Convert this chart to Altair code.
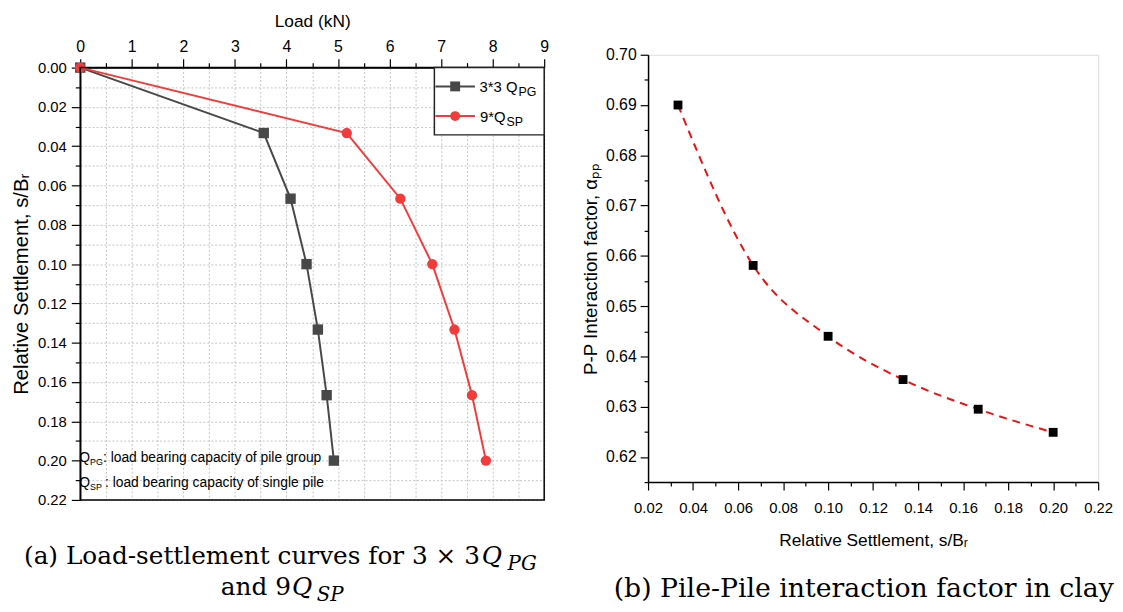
import altair as alt
import pandas as pd

# ---------------- data ----------------
settlement = [0.0, 0.0333, 0.0667, 0.1, 0.1333, 0.1667, 0.2]
load_group = [0.0, 3.56, 4.08, 4.39, 4.61, 4.78, 4.92]
load_single = [0.0, 5.17, 6.21, 6.83, 7.26, 7.60, 7.87]

rel_settlement = [0.0333, 0.0667, 0.1, 0.1333, 0.1667, 0.2]
alpha_pp = [0.690, 0.6581, 0.6440, 0.6354, 0.6295, 0.6249]

load_ticks = [i * 0.5 for i in range(19)]
settle_ticks = [round(i * 0.01, 2) for i in range(23)]
rs_ticks = [round(0.02 + i * 0.01, 2) for i in range(21)]
alpha_ticks = [round(0.615 + i * 0.005, 3) for i in range(18)]

GREY = "#484848"
RED = "#f23c3c"
DRED = "#ee1111"
SANS = "Liberation Sans"
SERIF = "DejaVu Serif"

grp = pd.DataFrame({"settlement": settlement, "load": load_group})
sgl = pd.DataFrame({"settlement": settlement, "load": load_single})
pp = pd.DataFrame({"rs": rel_settlement, "alpha": alpha_pp})

ONE = alt.Data(values=[{"k": 1}])


def txt(t, x, y, size, font=SANS, align="left", style="normal", baseline="middle"):
    return alt.Chart(ONE).mark_text(
        text=t, fontSize=size, font=font, align=align, baseline=baseline,
        fontStyle=style, color="black"
    ).encode(x=alt.value(x), y=alt.value(y))


# ---------------- left panel ----------------
# the left panel's frame sits 13 px lower than the right panel's
W1, H1 = 469, 450
TOP = 13

ax_top = alt.Axis(
    orient="top", values=load_ticks, title="Load (kN)", labelFlush=False, offset=-TOP,
    labelExpr="datum.value % 1 === 0 ? format(datum.value, 'd') : ''",
    labelFontSize=16, labelFont=SANS, labelColor="black", labelPadding=4,
    titleFontSize=17.5, titleFont=SANS, titleFontWeight="normal", titleColor="black", titlePadding=9,
    tickSize={"condition": {"test": "datum.value % 1 !== 0", "value": 5}, "value": 9},
    tickColor="black", tickWidth=1.2, domainColor="black", domainWidth=1.5,
    grid=True, gridDash=[2, 2], gridColor="#c4c4c4", gridWidth=1,
)
ax_left = alt.Axis(
    orient="left", values=settle_ticks, title="Relative Settlement, s/Bᵣ", labelFlush=False,
    labelExpr="round(datum.value * 100) % 2 === 0 ? format(datum.value, '.2f') : ''",
    labelFontSize=15, labelFont=SANS, labelColor="black", labelPadding=5,
    titleFontSize=20.5, titleFont=SANS, titleFontWeight="normal", titleColor="black", titlePadding=6,
    tickSize={"condition": {"test": "round(datum.value * 100) % 2 === 1", "value": 5}, "value": 9},
    tickColor="black", tickWidth=1.2, domainColor="black", domainWidth=1.5,
    grid=True, gridDash=[2, 2], gridColor="#c4c4c4", gridWidth=1,
)
xl = alt.X("load:Q", scale=alt.Scale(domain=[0, 9], nice=False, zero=False), axis=ax_top)
yl = alt.Y("settlement:Q", scale=alt.Scale(domain=[0, 0.22], range=[TOP, H1], nice=False, zero=False), axis=ax_left)

frame = alt.Chart(ONE).mark_rect(fill="transparent", stroke="black", strokeWidth=1.5).encode(
    x=alt.value(0), x2=alt.value(W1), y=alt.value(TOP), y2=alt.value(H1))
g_line = alt.Chart(grp).mark_line(color=GREY, strokeWidth=2).encode(x=xl, y=yl, order="settlement:Q")
g_pts = alt.Chart(grp).mark_point(shape="square", filled=True, size=110, color=GREY, opacity=1).encode(x=xl, y=yl)
s_line = alt.Chart(sgl).mark_line(color=RED, strokeWidth=2).encode(x=xl, y=yl, order="settlement:Q")
s_pts = alt.Chart(sgl).mark_point(shape="circle", filled=True, size=110, color=RED, opacity=1).encode(x=xl, y=yl)

leg_box = alt.Chart(ONE).mark_rect(fill="white", stroke="#222222", strokeWidth=1.5).encode(
    x=alt.value(358), x2=alt.value(W1), y=alt.value(TOP), y2=alt.value(TOP + 68))
leg_l1 = alt.Chart(ONE).mark_rule(color=GREY, strokeWidth=2).encode(x=alt.value(359), x2=alt.value(399), y=alt.value(TOP + 19))
leg_m1 = alt.Chart(ONE).mark_point(shape="square", filled=True, size=100, color=GREY, opacity=1).encode(x=alt.value(379), y=alt.value(TOP + 19))
leg_l2 = alt.Chart(ONE).mark_rule(color=RED, strokeWidth=2).encode(x=alt.value(359), x2=alt.value(399), y=alt.value(TOP + 49))
leg_m2 = alt.Chart(ONE).mark_point(shape="circle", filled=True, size=100, color=RED, opacity=1).encode(x=alt.value(379), y=alt.value(TOP + 49))

leg_t = [
    txt("3*3 Q", 442, TOP + 20, 15, align="right"),
    txt("PG", 443, TOP + 25, 12.5),
    txt("9*Q", 430, TOP + 50, 15, align="right"),
    txt("SP", 431, TOP + 55, 12.5),
]

ann = [
    txt("Q", 10, TOP + 395, 14, align="right"),
    txt("PG", 10, TOP + 399, 9),
    txt(": load bearing capacity of pile group", 23, TOP + 395, 14),
    txt("Q", 10, TOP + 420, 14, align="right"),
    txt("SP", 10, TOP + 424, 9),
    txt(": load bearing capacity of single pile", 25, TOP + 420, 14),
]

cap_a = [
    txt("(a) Load-settlement curves for 3 × 3", 404, TOP + 494, 25, font=SERIF, align="right"),
    txt("Q", 406, TOP + 494, 25, font=SERIF, style="italic"),
    txt("PG", 432, TOP + 502, 20, font=SERIF, style="italic"),
    txt("and 9", 213, TOP + 525, 25, font=SERIF, align="right"),
    txt("Q", 214, TOP + 525, 25, font=SERIF, style="italic"),
    txt("SP", 239, TOP + 533, 20, font=SERIF, style="italic"),
]

left = alt.layer(
    g_line, s_line, g_pts, s_pts, frame,
    leg_box, leg_l1, leg_m1, leg_l2, leg_m2, *leg_t, *ann, *cap_a
).properties(width=W1, height=H1, view=alt.ViewBackground(stroke="transparent"))

# ---------------- right panel ----------------
W2, H2 = 455, 432

ax_b = alt.Axis(
    orient="bottom", values=rs_ticks, title="Relative Settlement, s/Bᵣ", labelFlush=False,
    labelExpr="round(datum.value * 100) % 2 === 0 ? format(datum.value, '.2f') : ''",
    labelFontSize=15, labelFont=SANS, labelColor="black", labelPadding=11,
    titleFontSize=17.5, titleFont=SANS, titleFontWeight="normal", titleColor="black", titlePadding=16,
    tickSize={"condition": {"test": "round(datum.value * 100) % 2 === 1", "value": 4}, "value": 8},
    tickColor="black", tickWidth=1.2, domainColor="black", domainWidth=1.5, grid=False,
)
ax_r = alt.Axis(
    orient="left", values=alpha_ticks, title="P-P Interaction factor, αₚₚ", labelFlush=False,
    labelExpr="round(datum.value * 1000) % 10 === 0 ? format(datum.value, '.2f') : ''",
    labelFontSize=16, labelFont=SANS, labelColor="black", labelPadding=4,
    titleFontSize=19, titleFont=SANS, titleFontWeight="normal", titleColor="black", titlePadding=5,
    tickSize={"condition": {"test": "round(datum.value * 1000) % 10 !== 0", "value": 4}, "value": 8},
    tickColor="black", tickWidth=1.2, domainColor="black", domainWidth=1.5, grid=False,
)
xr = alt.X("rs:Q", scale=alt.Scale(domain=[0.02, 0.22], nice=False, zero=False), axis=ax_b)
yr = alt.Y("alpha:Q", scale=alt.Scale(domain=[0.615, 0.70], nice=False, zero=False), axis=ax_r)

r_line = alt.Chart(pp).mark_line(color=DRED, strokeWidth=2, strokeDash=[8, 6], interpolate="monotone").encode(x=xr, y=yr)
r_pts = alt.Chart(pp).mark_point(shape="square", filled=True, size=80, color="black", opacity=1).encode(x=xr, y=yr)

cap_b = txt("(b) Pile-Pile interaction factor in clay", 218, 540, 27, font=SERIF, align="center")

right = alt.layer(r_line, r_pts, cap_b).properties(width=W2, height=H2)

chart = alt.hconcat(left, right, spacing=32).properties(
    padding={"left": 3, "top": 0, "right": 0, "bottom": 0}
).configure_view(stroke="black", strokeWidth=1.5).configure(background="white")

chart.save("out.html", embed_options={"renderer": "svg", "actions": False})
